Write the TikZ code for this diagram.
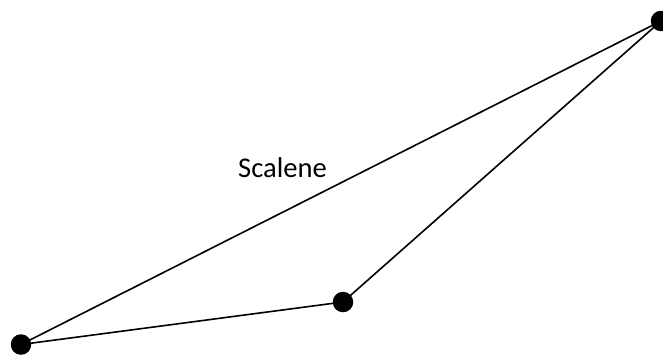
\documentclass[tikz,border=0pt]{standalone}
\usepackage{fontspec}
\setmainfont{Carlito}
\begin{document}
\begin{tikzpicture}[x=1pt,y=-1pt,
  vertex/.style={circle,fill=black,inner sep=0pt,minimum width=19.5pt,minimum height=20.5pt},
  edge/.style={line width=1.6pt,black}]
\clip (0,0) rectangle (663,354);
\useasboundingbox (0,0) rectangle (663,354);
\node[vertex] (A) at (21,344.5) {};
\node[vertex] (B) at (343,302) {};
\node[vertex] (C) at (661,21) {};
\draw[edge] (A.center) -- (B.center);
\draw[edge] (B.center) -- (C.center);
\draw[edge] (A.center) -- (C.center);
\node[font=\fontsize{28.6}{34}\selectfont,inner sep=0pt,anchor=base] (L) at (282.5,177) {Scalene};
\end{tikzpicture}
\end{document}
